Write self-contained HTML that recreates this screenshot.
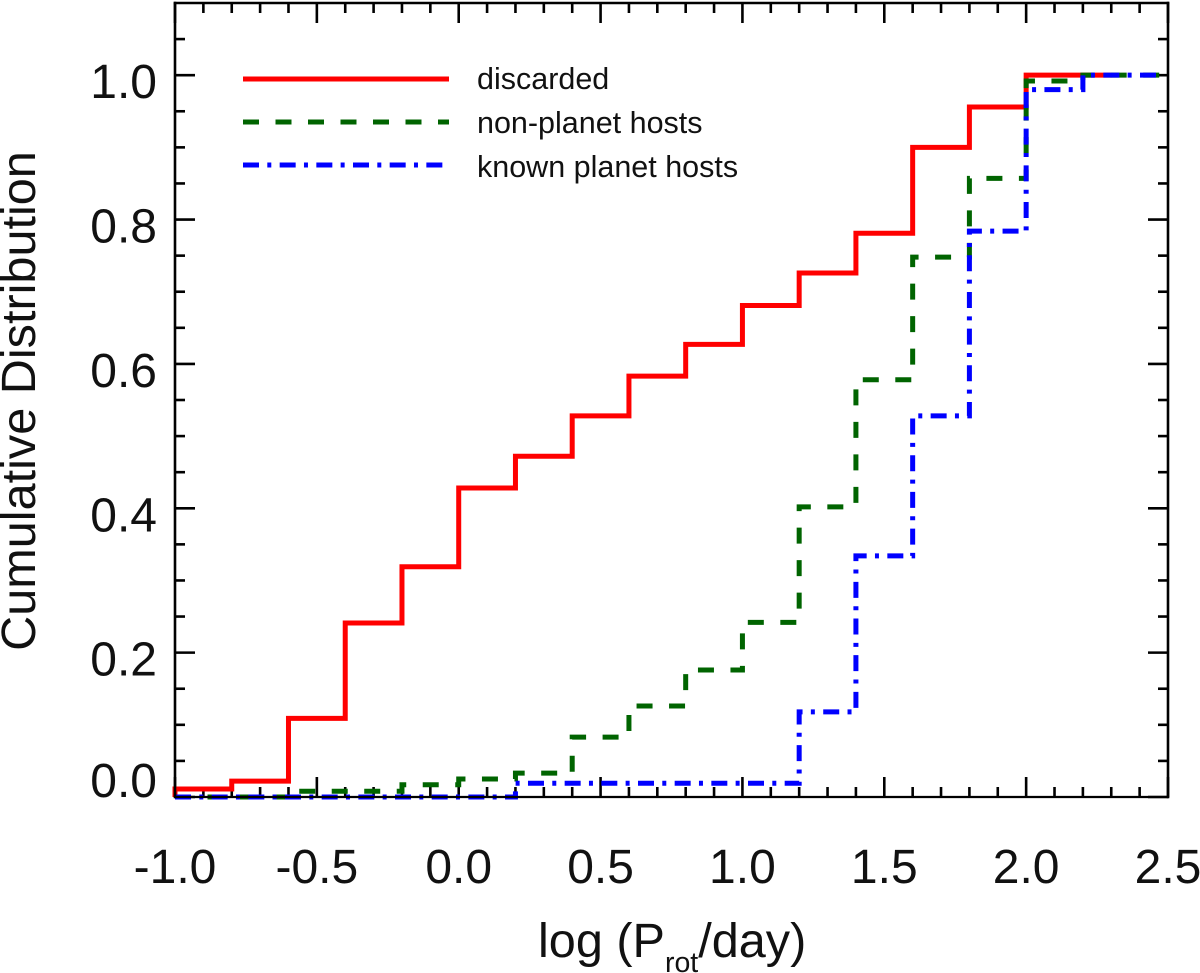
<!DOCTYPE html>
<html lang="en">
<head>
<meta charset="utf-8">
<title>Cumulative Distribution of log rotation period</title>
<style>
html,body{margin:0;padding:0;background:#fff;}
svg{display:block;}
text{font-family:"Liberation Sans",sans-serif;fill:#111;}
</style>
</head>
<body>
<svg id="chart" xmlns="http://www.w3.org/2000/svg" width="1200" height="973" viewBox="0 0 1200 973">
  <rect x="0" y="0" width="1200" height="973" fill="#fff"/>
  <g id="ticks"></g>
  <g id="series"></g>
  <g id="frame"></g>
  <g id="labels"></g>
  <text x="538" y="957" font-size="48.6">log (P<tspan font-size="28.5" dy="15">rot</tspan><tspan dy="-15">/day)</tspan></text>
  <text transform="translate(35,401) rotate(-90)" text-anchor="middle" font-size="48.6">Cumulative Distribution</text>
  <g>
    <line x1="243" x2="449" y1="79" y2="79" stroke="#ff0000" stroke-width="5"/>
    <text x="477" y="89" font-size="30.5">discarded</text>
    <line x1="243" x2="449" y1="122" y2="122" stroke="#006400" stroke-width="5" stroke-dasharray="16 16.5"/>
    <text x="477" y="133" font-size="30.5">non-planet hosts</text>
    <line x1="243" x2="449" y1="165" y2="165" stroke="#0000ff" stroke-width="5" stroke-dasharray="16 8.3 4 8.37"/>
    <text x="477" y="177" font-size="30.5">known planet hosts</text>
  </g>
</svg>
<script>
// Chart data
var binEdges = [-1.0,-0.8,-0.6,-0.4,-0.2,0.0,0.2,0.4,0.6,0.8,1.0,1.2,1.4,1.6,1.8,2.0,2.2];
var discarded = [0.011,0.022,0.109,0.241,0.319,0.428,0.472,0.528,0.583,0.627,0.681,0.726,0.781,0.900,0.956,1.0,1.0];
var nonPlanetHosts = [0.0,0.0,0.008,0.008,0.017,0.025,0.033,0.083,0.126,0.176,0.242,0.402,0.578,0.748,0.857,0.992,1.0];
var knownPlanetHosts = [0.0,0.0,0.0,0.0,0.0,0.0,0.019,0.019,0.019,0.019,0.019,0.118,0.334,0.528,0.784,0.98,1.0];
var seriesEnds = [2.3,2.48,2.48];
var xTickValues = [-1.0,-0.5,0.0,0.5,1.0,1.5,2.0,2.5];
var xTickLabels = ["-1.0","-0.5","0.0","0.5","1.0","1.5","2.0","2.5"];
var xMinorTickValues = [-0.9,-0.8,-0.7,-0.6,-0.4,-0.3,-0.2,-0.1,0.1,0.2,0.3,0.4,0.6,0.7,0.8,0.9,1.1,1.2,1.3,1.4,1.6,1.7,1.8,1.9,2.1,2.2,2.3,2.4];
var yTickValues = [0.0,0.2,0.4,0.6,0.8,1.0];
var yTickLabels = ["0.0","0.2","0.4","0.6","0.8","1.0"];
var yMinorTickValues = [0.05,0.10,0.15,0.25,0.30,0.35,0.45,0.50,0.55,0.65,0.70,0.75,0.85,0.90,0.95,1.05];

var NS = "http://www.w3.org/2000/svg";
var plotLeft = 175, plotRight = 1168, plotTop = 3, plotBottom = 797;
function xScale(v){ return plotLeft + (v + 1.0) / 3.5 * (plotRight - plotLeft); }
function yScale(v){ return plotBottom - v / 1.1 * (plotBottom - plotTop); }
function make(tag, parent, attrs){
  var el = document.createElementNS(NS, tag);
  for (var k in attrs) el.setAttribute(k, attrs[k]);
  parent.appendChild(el);
  return el;
}
var ticksG = document.getElementById("ticks");
var seriesG = document.getElementById("series");
var frameG = document.getElementById("frame");
var labelsG = document.getElementById("labels");

function tickLine(x1, y1, x2, y2, name){
  var t = make("line", ticksG, {x1:x1, y1:y1, x2:x2, y2:y2, stroke:"#000", "stroke-width":2.6});
  
  
}
xTickValues.forEach(function(v){
  var x = xScale(v);
  tickLine(x, plotBottom, x, plotBottom - 20, "x-major-tick-bottom");
  tickLine(x, plotTop, x, plotTop + 20, "x-major-tick-top");
});
xMinorTickValues.forEach(function(v){
  var x = xScale(v);
  tickLine(x, plotBottom, x, plotBottom - 10, "x-minor-tick-bottom");
  tickLine(x, plotTop, x, plotTop + 10, "x-minor-tick-top");
});
yTickValues.forEach(function(v){
  var y = yScale(v);
  tickLine(plotLeft, y, plotLeft + 20, y, "y-major-tick-left");
  tickLine(plotRight, y, plotRight - 20, y, "y-major-tick-right");
});
yMinorTickValues.forEach(function(v){
  var y = yScale(v);
  tickLine(plotLeft, y, plotLeft + 10, y, "y-minor-tick-left");
  tickLine(plotRight, y, plotRight - 10, y, "y-minor-tick-right");
});

function frameLine(x1, y1, x2, y2, w, name){
  var f = make("line", frameG, {x1:x1, y1:y1, x2:x2, y2:y2, stroke:"#000", "stroke-width":w, "stroke-linecap":"square"});
  
  
}
frameLine(plotLeft, plotTop, plotRight, plotTop, 2.6, "frame-top");
frameLine(plotLeft, plotTop, plotLeft, plotBottom, 2.6, "frame-left");
frameLine(plotRight, plotTop, plotRight, plotBottom, 2.6, "frame-right");
frameLine(plotLeft, plotBottom, plotRight, plotBottom, 2.2, "frame-bottom");

function stepPath(values, end){
  var d = "M" + xScale(binEdges[0]) + " " + yScale(0);
  for (var i = 0; i < values.length; i++){
    var next = i + 1 < binEdges.length ? binEdges[i + 1] : end;
    d += "L" + xScale(binEdges[i]) + " " + yScale(values[i]);
    d += "L" + xScale(next) + " " + yScale(values[i]);
  }
  return d;
}
var redPath = make("path", seriesG, {d:stepPath(discarded, seriesEnds[0]), fill:"none", stroke:"#ff0000", "stroke-width":5, "stroke-linejoin":"miter"});


var greenPath = make("path", seriesG, {d:stepPath(nonPlanetHosts, seriesEnds[1]), fill:"none", stroke:"#006400", "stroke-width":5, "stroke-dasharray":"16 16.5"});


var bluePath = make("path", seriesG, {d:stepPath(knownPlanetHosts, seriesEnds[2]), fill:"none", stroke:"#0000ff", "stroke-width":5, "stroke-dasharray":"16 8.3 4 8.37"});



xTickValues.forEach(function(v, i){
  var t = make("text", labelsG, {x:xScale(v), y:883, "text-anchor":"middle", "font-size":48});
  t.textContent = xTickLabels[i];
  
  
});
yTickValues.forEach(function(v, i){
  var base = v === 0 ? yScale(v) : yScale(v) + 23;
  var t = make("text", labelsG, {x:157, y:base, "text-anchor":"end", "font-size":48});
  t.textContent = yTickLabels[i];
  
  
});
</script>
</body>
</html>
